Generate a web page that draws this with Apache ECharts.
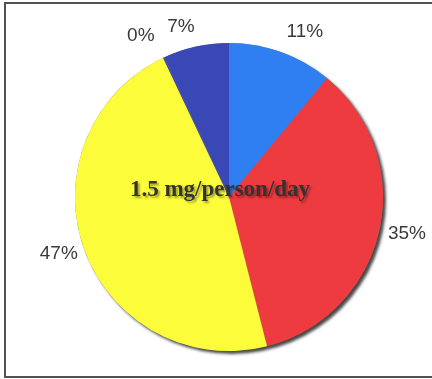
<!DOCTYPE html>
<html>
<head>
<meta charset="utf-8">
<script src="https://cdn.jsdelivr.net/npm/echarts@6/dist/echarts.min.js"></script>
<style>
html,body{margin:0;padding:0;background:#fff;}
#chart{width:432px;height:379px;}
</style>
</head>
<body>
<div id="chart"></div>
<script>
// Data
var categories = ['Group A', 'Group B', 'Group C', 'Group D', 'Group E'];
var values = [11, 35.1, 47, 0.15, 6.9];
var colors = ['#2f7ff2', '#ee3b3f', '#fcfc3a', '#3a48b6', '#3a48b6'];
var labelLengths = [22, 14, 12, 24, 20];
var labelGaps = [-2, -5, -5, -1, -3];
var centerText = '1.5 mg/person/day';

var chart = echarts.init(document.getElementById('chart'), null, {renderer: 'canvas'});

var pieData = categories.map(function (c, i) {
  return {
    name: c,
    value: values[i],
    itemStyle: {color: colors[i]},
    label: {distanceToLabelLine: labelGaps[i]},
    labelLine: {show: false, length: labelLengths[i], length2: 0}
  };
});

chart.setOption({
  animation: false,
  backgroundColor: '#ffffff',
  graphic: [
    {
      type: 'rect',
      shape: {x: 5, y: 3, width: 440, height: 374},
      style: {fill: 'none', stroke: '#505258', lineWidth: 2},
      z: 0
    },
    {
      type: 'text',
      x: 220,
      y: 190,
      z: 100,
      style: {
        text: centerText,
        fill: '#333',
        font: 'bold 23px "Liberation Serif", "Times New Roman", serif',
        textAlign: 'center',
        textVerticalAlign: 'middle',
        textShadowColor: 'rgba(0,0,0,0.35)',
        textShadowOffsetX: 2,
        textShadowOffsetY: 2,
        textShadowBlur: 2
      }
    }
  ],
  series: [
    {
      type: 'pie',
      silent: true,
      center: [229, 197],
      radius: [0, 154],
      startAngle: 90,
      label: {show: false},
      labelLine: {show: false},
      itemStyle: {
        color: '#777',
        shadowColor: 'rgba(40,40,40,0.85)',
        shadowBlur: 3,
        shadowOffsetX: 3,
        shadowOffsetY: 3
      },
      data: [{value: 1, name: 'bg'}]
    },
    {
      type: 'pie',
      center: [229, 197],
      radius: [0, 154],
      startAngle: 90,
      clockwise: true,
      avoidLabelOverlap: false,
      percentPrecision: 0,
      itemStyle: {borderWidth: 0},
      label: {
        show: true,
        position: 'outside',
        formatter: '{d}%',
        fontFamily: '"Liberation Sans", Arial, sans-serif',
        fontSize: 19,
        color: '#3a3a3a'
      },
      labelLine: {show: false},
      data: pieData
    }
  ]
});
</script>
</body>
</html>
